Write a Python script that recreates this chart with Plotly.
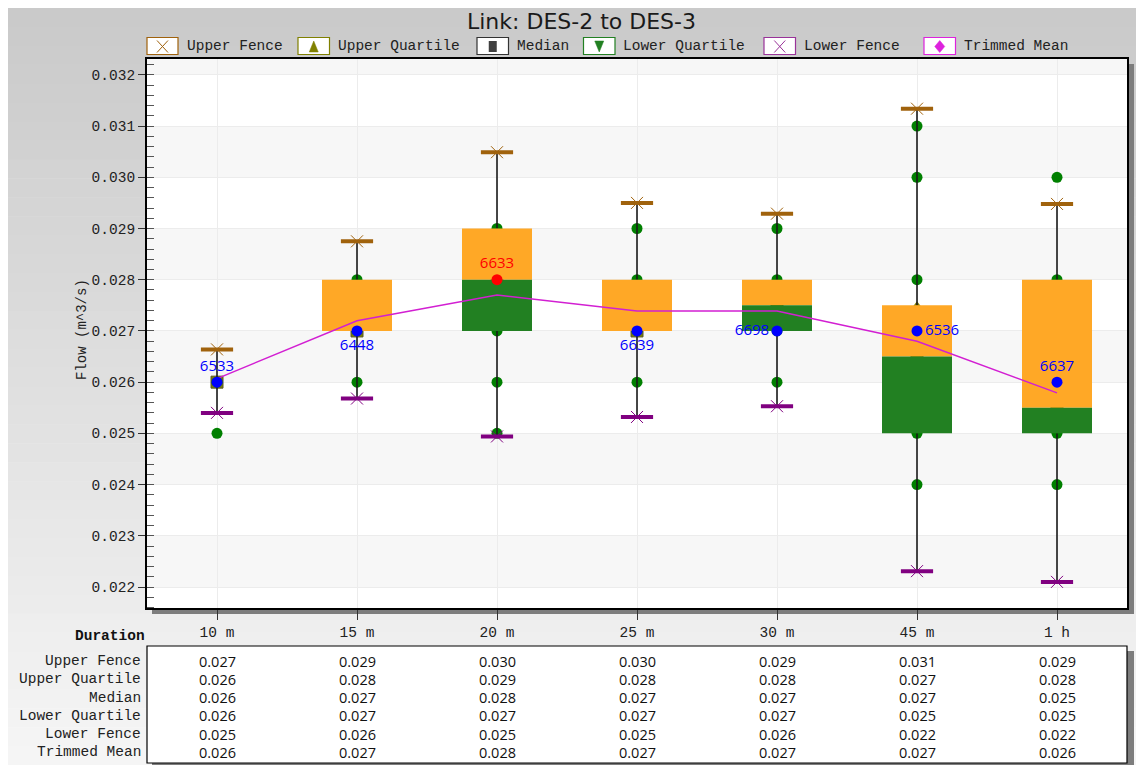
import plotly.graph_objects as go

# ---------------- data ----------------
categories = ["10 m", "15 m", "20 m", "25 m", "30 m", "45 m", "1 h"]
upper_fence = [0.02664, 0.02875, 0.03049, 0.02950, 0.02929, 0.03134, 0.02948]
upper_quartile = [0.0260, 0.0280, 0.0290, 0.0280, 0.0280, 0.0275, 0.0280]
median = [0.0260, 0.0270, 0.0280, 0.0270, 0.0275, 0.0265, 0.0255]
lower_quartile = [0.0260, 0.0270, 0.0270, 0.0270, 0.0270, 0.0250, 0.0250]
lower_fence = [0.02540, 0.02568, 0.02494, 0.02532, 0.02553, 0.02231, 0.02210]
trimmed_mean = [0.02607, 0.02720, 0.02770, 0.02739, 0.02739, 0.02680, 0.02579]

mode_value = [0.026, 0.027, 0.028, 0.027, 0.027, 0.027, 0.026]
mode_count = ["6533", "6448", "6633", "6639", "6698", "6536", "6637"]
mode_label_pos = ["top center", "bottom center", "top center", "bottom center",
                  "middle left", "middle right", "top center"]
mode_color = ["#0000ff", "#0000ff", "#ff0000", "#0000ff", "#0000ff", "#0000ff", "#0000ff"]

observed_10m = [0.026, 0.025]
observed_15m = [0.028, 0.027, 0.026]
observed_20m = [0.029, 0.028, 0.027, 0.026, 0.025]
observed_25m = [0.029, 0.028, 0.027, 0.026]
observed_30m = [0.029, 0.028, 0.027, 0.026]
observed_45m = [0.031, 0.030, 0.028, 0.027, 0.025, 0.024]
observed_1h = [0.030, 0.028, 0.026, 0.025, 0.024]
observed = [observed_10m, observed_15m, observed_20m, observed_25m,
            observed_30m, observed_45m, observed_1h]

table_rows = ["Upper Fence", "Upper Quartile", "Median", "Lower Quartile",
              "Lower Fence", "Trimmed Mean"]
table_upper_fence = ["0.027", "0.029", "0.030", "0.030", "0.029", "0.031", "0.029"]
table_upper_quartile = ["0.026", "0.028", "0.029", "0.028", "0.028", "0.027", "0.028"]
table_median = ["0.026", "0.027", "0.028", "0.027", "0.027", "0.027", "0.025"]
table_lower_quartile = ["0.026", "0.027", "0.027", "0.027", "0.027", "0.025", "0.025"]
table_lower_fence = ["0.025", "0.026", "0.025", "0.025", "0.026", "0.022", "0.022"]
table_trimmed_mean = ["0.026", "0.027", "0.028", "0.027", "0.027", "0.027", "0.026"]
table_values = [table_upper_fence, table_upper_quartile, table_median,
                table_lower_quartile, table_lower_fence, table_trimmed_mean]

# ---------------- layout geometry (screen pixels; page body adds an 8px offset) ----------------
OFF = 8
FW, FH = 1144 - OFF, 765 - OFF
L, R, T, B = 147, 1127, 59, 608


def fx(px):
    return (px - L) / (R - L)


def fy(py):
    return (B - py) / (B - T)


MONO = "Liberation Mono"
SANS = "Open Sans"
BROWN = "#a0620c"
OLIVE = "#808000"
PURPLE = "#800080"
GREEN_DOT = "#008000"
ORANGE = "#ffa826"
GREEN_BOX = "#228022"
MAGENTA = "#d21fd2"

fig = go.Figure()

# ---------- base subplot: quartile markers, observations, whiskers, fences ----------
fig.add_trace(go.Scatter(x=categories, y=upper_quartile, mode="markers",
                         marker=dict(symbol="triangle-up", size=8, color=OLIVE),
                         showlegend=False, hoverinfo="skip"))
fig.add_trace(go.Scatter(x=categories, y=median, mode="markers",
                         marker=dict(symbol="square", size=12, color="#7a7a10",
                                     line=dict(color="#5a5a20", width=1)),
                         showlegend=False, hoverinfo="skip"))
fig.add_trace(go.Scatter(x=categories, y=lower_quartile, mode="markers",
                         marker=dict(symbol="triangle-down", size=8, color=GREEN_BOX),
                         showlegend=False, hoverinfo="skip"))

obs_x, obs_y = [], []
for c, vals in zip(categories, observed):
    for v in vals:
        obs_x.append(c)
        obs_y.append(v)
fig.add_trace(go.Scatter(x=obs_x, y=obs_y, mode="markers",
                         marker=dict(size=11, color=GREEN_DOT),
                         showlegend=False, hoverinfo="skip"))

wx, wy = [], []
for c, uf, q3, q1, lf in zip(categories, upper_fence, upper_quartile, lower_quartile, lower_fence):
    wx += [c, c, None, c, c, None]
    wy += [q3, uf, None, q1, lf, None]
fig.add_trace(go.Scatter(x=wx, y=wy, mode="lines", line=dict(color="#1a1a1a", width=1.6),
                         showlegend=False, hoverinfo="skip"))

for vals, col in [(upper_fence, BROWN), (lower_fence, PURPLE)]:
    fig.add_trace(go.Scatter(x=categories, y=vals, mode="markers",
                             marker=dict(symbol="line-ew", size=23, color=col,
                                         line=dict(color=col, width=4)),
                             showlegend=False, hoverinfo="skip"))
    fig.add_trace(go.Scatter(x=categories, y=vals, mode="markers",
                             marker=dict(symbol="x-thin", size=12, color=col,
                                         line=dict(color=col, width=1)),
                             showlegend=False, hoverinfo="skip"))

# ---------- overlay subplot: boxes, trimmed mean, mode points ----------
fig.add_trace(go.Bar(x=categories, y=[q3 - m for q3, m in zip(upper_quartile, median)],
                     base=median, width=0.5, marker=dict(color=ORANGE, line=dict(width=0)),
                     xaxis="x2", yaxis="y2", showlegend=False, hoverinfo="skip"))
fig.add_trace(go.Bar(x=categories, y=[m - q1 for m, q1 in zip(median, lower_quartile)],
                     base=lower_quartile, width=0.5, marker=dict(color=GREEN_BOX, line=dict(width=0)),
                     xaxis="x2", yaxis="y2", showlegend=False, hoverinfo="skip"))
fig.add_trace(go.Scatter(x=categories, y=trimmed_mean, mode="lines",
                         line=dict(color=MAGENTA, width=1.5),
                         xaxis="x2", yaxis="y2", showlegend=False, hoverinfo="skip"))
fig.add_trace(go.Scatter(x=categories, y=mode_value, mode="markers+text",
                         text=mode_count, textposition=mode_label_pos,
                         textfont=dict(family=SANS, size=15, color=mode_color),
                         marker=dict(size=11, color=mode_color),
                         xaxis="x2", yaxis="y2", showlegend=False, hoverinfo="skip"))

# ---------------- shapes ----------------
shapes = []
N = 40
top_g, bot_g = OFF, 765
for i in range(N):
    y0 = top_g + (bot_g - top_g) * i / N
    y1 = top_g + (bot_g - top_g) * (i + 1) / N
    g = int(round(201 + 45 * (i + 0.5) / N))
    shapes.append(dict(type="rect", xref="paper", yref="paper", layer="below",
                       x0=fx(OFF), x1=fx(1144), y0=fy(y0), y1=fy(y1 + 0.5),
                       fillcolor=f"rgb({g},{g},{g})", line=dict(width=0)))
# shadows
for (x0, x1, y0, y1) in [(1127, 1134, 64, 614), (152, 1134, 608, 614),
                         (1127, 1134, 651, 765), (152, 1134, 763, 768)]:
    shapes.append(dict(type="rect", xref="paper", yref="paper", layer="below",
                       x0=fx(x0), x1=fx(x1), y0=fy(y0), y1=fy(y1),
                       fillcolor="#7d7d7d", line=dict(width=0)))
# plot area white
shapes.append(dict(type="rect", xref="paper", yref="paper", layer="below",
                   x0=0, x1=1, y0=0, y1=1, fillcolor="white", line=dict(width=0)))
# alternating bands
for k in range(21, 33):
    if k % 2 == 0:
        shapes.append(dict(type="rect", xref="x", yref="y", layer="below",
                           x0=-0.5, x1=6.5, y0=k / 1000, y1=(k + 1) / 1000,
                           fillcolor="#f7f7f7", line=dict(width=0)))
# table box
shapes.append(dict(type="rect", xref="paper", yref="paper", layer="below",
                   x0=fx(147), x1=fx(1127), y0=fy(646), y1=fy(763),
                   fillcolor="white", line=dict(color="black", width=1.2)))

# legend symbols
legend_items = [
    ("Upper Fence", 147, 178, BROWN, "x", 185),
    ("Upper Quartile", 298, 329.5, OLIVE, "tri_up", 336),
    ("Median", 477, 508.5, "#333333", "bar", 514.5),
    ("Lower Quartile", 583.5, 615, GREEN_BOX, "tri_down", 621),
    ("Lower Fence", 764, 795.5, "#993399", "x", 802),
    ("Trimmed Mean", 924, 955.5, "#dd22dd", "diamond", 961.5),
]
ly0, ly1 = 37.5, 54.5
annotations = []
for name, bx0, bx1, col, kind, tx in legend_items:
    shapes.append(dict(type="rect", xref="paper", yref="paper",
                       x0=fx(bx0), x1=fx(bx1), y0=fy(ly0), y1=fy(ly1),
                       fillcolor="white", line=dict(color=col, width=1.2)))
    cx = (bx0 + bx1) / 2
    cy = 46.5
    if kind == "x":
        for (a, b, c, d) in [(cx - 5.5, cy - 6, cx + 5.5, cy + 6), (cx - 5.5, cy + 6, cx + 5.5, cy - 6)]:
            shapes.append(dict(type="line", xref="paper", yref="paper",
                               x0=fx(a), y0=fy(b), x1=fx(c), y1=fy(d),
                               line=dict(color=col, width=1)))
    elif kind == "tri_up":
        p = f"M {fx(cx - 4.5)},{fy(cy + 5.5)} L {fx(cx + 4.5)},{fy(cy + 5.5)} L {fx(cx)},{fy(cy - 5.5)} Z"
        shapes.append(dict(type="path", xref="paper", yref="paper", path=p,
                           fillcolor=col, line=dict(color=col, width=0.5)))
    elif kind == "tri_down":
        p = f"M {fx(cx - 4.5)},{fy(cy - 5.5)} L {fx(cx + 4.5)},{fy(cy - 5.5)} L {fx(cx)},{fy(cy + 5.5)} Z"
        shapes.append(dict(type="path", xref="paper", yref="paper", path=p,
                           fillcolor=col, line=dict(color=col, width=0.5)))
    elif kind == "bar":
        shapes.append(dict(type="rect", xref="paper", yref="paper",
                           x0=fx(cx - 4), x1=fx(cx + 4), y0=fy(cy - 5.5), y1=fy(cy + 5.5),
                           fillcolor="#404040", line=dict(width=0)))
    elif kind == "diamond":
        p = (f"M {fx(cx)},{fy(cy - 6)} L {fx(cx + 5)},{fy(cy)} L {fx(cx)},{fy(cy + 6)} "
             f"L {fx(cx - 5)},{fy(cy)} Z")
        shapes.append(dict(type="path", xref="paper", yref="paper", path=p,
                           fillcolor=col, line=dict(color=col, width=0.5)))
    annotations.append(dict(text=name, xref="paper", yref="paper", x=fx(tx), y=fy(46),
                            xanchor="left", yanchor="middle", showarrow=False,
                            font=dict(family=MONO, size=14.5, color="#222222")))

# title
annotations.append(dict(text="Link: DES-2 to DES-3", xref="paper", yref="paper",
                        x=fx(581), y=fy(21), xanchor="center", yanchor="middle",
                        showarrow=False, font=dict(family="DejaVu Sans", size=22, color="#1a1a1a")))
# y-axis title
annotations.append(dict(text="Flow (m^3/s)", xref="paper", yref="paper",
                        x=fx(82), y=fy(330), xanchor="center", yanchor="middle",
                        textangle=-90, showarrow=False,
                        font=dict(family=MONO, size=14, color="#222222")))
# Duration header
annotations.append(dict(text="<b>Duration</b>", xref="paper", yref="paper",
                        x=fx(146.5), y=fy(636), xanchor="right", yanchor="middle",
                        showarrow=False, font=dict(family=MONO, size=14.5, color="#111111")))
row_y = [661, 679, 697.5, 715.5, 734, 752]
for rname, ry, vals in zip(table_rows, row_y, table_values):
    annotations.append(dict(text=rname, xref="paper", yref="paper",
                            x=fx(143), y=fy(ry), xanchor="right", yanchor="middle",
                            showarrow=False, font=dict(family=MONO, size=14.5, color="#222222")))
    for c, v in zip(categories, vals):
        annotations.append(dict(text=v, xref="x", yref="paper", x=c, y=fy(ry),
                                xanchor="center", yanchor="middle", showarrow=False,
                                font=dict(family=SANS, size=14.5, color="#111111")))

yrange = [0.02159, 0.03231]
fig.update_layout(
    width=FW, height=FH,
    margin=dict(l=L - OFF, r=FW - (R - OFF), t=T - OFF, b=FH - (B - OFF), pad=0),
    paper_bgcolor="white", plot_bgcolor="white",
    showlegend=False, barmode="overlay",
    shapes=shapes, annotations=annotations,
    xaxis=dict(type="category", categoryorder="array", categoryarray=categories,
               range=[-0.5, 6.5], showgrid=True, gridcolor="#ececec", gridwidth=1,
               ticks="outside", ticklen=10, tickwidth=1.2, tickcolor="#333333",
               showline=True, linecolor="black", linewidth=2, mirror=True,
               tickfont=dict(family=MONO, size=14.5, color="#222222"), zeroline=False),
    yaxis=dict(range=yrange, dtick=0.001, tick0=0, tickformat=".3f",
               showgrid=True, gridcolor="#ececec", gridwidth=1,
               ticks="outside", ticklen=7, tickwidth=1.2, tickcolor="#333333",
               showline=True, linecolor="black", linewidth=2, mirror=True,
               minor=dict(dtick=0.0002, tick0=0, ticks="inside", ticklen=7,
                          tickcolor="#555555", tickwidth=1, showgrid=False),
               tickfont=dict(family=MONO, size=14.5, color="#222222"), zeroline=False),
    xaxis2=dict(type="category", categoryorder="array", categoryarray=categories,
                range=[-0.5, 6.5], overlaying="x", visible=False),
    yaxis2=dict(range=yrange, overlaying="y", visible=False),
)

fig.write_html("out.html")
